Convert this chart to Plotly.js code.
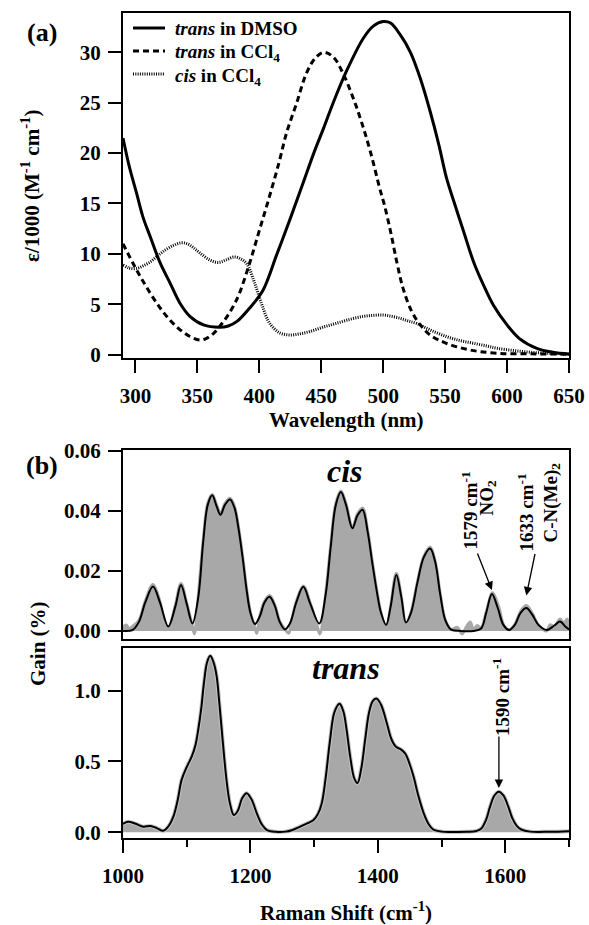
<!DOCTYPE html>
<html>
<head>
<meta charset="utf-8">
<script src="https://cdn.plot.ly/plotly-3.0.1.min.js"></script>
<style>
  html, body { margin: 0; padding: 0; background: #fff; }
  #chart { width: 589px; height: 925px; }
</style>
</head>
<body>
<div id="chart"></div>
<script>
// (a) UV-vis absorption spectra, epsilon / 1000 (M^-1 cm^-1)
const dmsoWavelength = [290, 295, 301, 306, 312, 320, 328, 336, 344, 355, 368, 375, 382, 392, 403, 414, 425, 435, 444, 452, 460, 471, 484, 492, 500, 506, 514, 522, 530, 538, 545, 551, 558, 565, 573, 581, 589, 600, 610, 624, 637, 650];
const dmsoEpsilon    = [21.5, 18.7, 16.0, 13.7, 11.7, 9.1, 7.1, 5.1, 3.8, 2.95, 2.72, 2.85, 3.3, 4.6, 6.4, 9.9, 13.5, 16.9, 20.0, 22.5, 25.1, 28.3, 31.4, 32.6, 33.05, 32.9, 31.7, 30.0, 27.4, 24.1, 20.8, 17.6, 14.85, 12.2, 9.2, 6.9, 4.9, 2.95, 1.6, 0.63, 0.24, 0.06];

const transCclWavelength = [290, 301, 312, 322, 333, 344, 352, 357, 363, 368, 373, 379, 384, 392, 400, 408, 416, 422, 430, 438, 445, 452, 460, 468, 476, 483, 490, 497, 501, 506, 511, 516, 523, 530, 538, 551, 570, 592, 620, 650];
const transCclEpsilon    = [11.0, 8.4, 6.1, 4.3, 2.8, 1.8, 1.45, 1.6, 2.1, 2.8, 3.6, 4.8, 6.1, 9.0, 12.3, 15.6, 19.1, 22.0, 24.9, 27.9, 29.4, 30.0, 29.5, 27.8, 25.4, 22.9, 20.0, 16.6, 14.85, 12.2, 9.2, 6.6, 4.3, 2.95, 1.95, 1.13, 0.47, 0.14, 0.08, 0.05];

const cisCclWavelength = [290, 295, 301, 306, 312, 317, 322, 330, 337, 342, 347, 352, 360, 367, 373, 380, 385, 390, 396, 402, 408, 416, 424, 432, 441, 452, 462, 473, 484, 492, 500, 507, 514, 520, 527, 538, 551, 562, 573, 584, 592, 605, 619, 635, 650];
const cisCclEpsilon    = [8.9, 8.6, 8.55, 8.8, 9.2, 9.7, 10.2, 10.8, 11.1, 11.0, 10.6, 10.1, 9.4, 9.15, 9.4, 9.7, 9.5, 9.0, 7.2, 5.0, 3.2, 2.2, 1.95, 2.05, 2.3, 2.75, 3.1, 3.5, 3.8, 3.9, 3.94, 3.8, 3.6, 3.35, 3.1, 2.45, 1.8, 1.4, 1.13, 0.85, 0.63, 0.42, 0.24, 0.12, 0.05];

// (b) Raman gain spectra, cis isomer: measured trace and fitted curve
const cisRawShift = [1000, 1005, 1010, 1015, 1025, 1035, 1047, 1058, 1063, 1071, 1082, 1091, 1100, 1109, 1112, 1118, 1126, 1133, 1140, 1147, 1153, 1160, 1168, 1175, 1181, 1188, 1194, 1200, 1207, 1210, 1215, 1222, 1230, 1238, 1246, 1254, 1260, 1264, 1272, 1283, 1294, 1305, 1309, 1318, 1326, 1334, 1342, 1350, 1360, 1368, 1376, 1384, 1391, 1398, 1405, 1413, 1420, 1429, 1437, 1444, 1452, 1462, 1472, 1482, 1490, 1498, 1506, 1515, 1525, 1532, 1538, 1545, 1550, 1556, 1562, 1570, 1580, 1590, 1598, 1606, 1615, 1624, 1633, 1642, 1652, 1665, 1670, 1677, 1686, 1692, 1697, 1700];
const cisRawGain  = [0.0012, 0.0020, 0.0008, 0.0015, 0.0035, 0.0100, 0.0155, 0.0098, 0.0040, 0.0010, 0.0085, 0.0158, 0.0092, 0.0015, -0.0010, 0.0112, 0.0305, 0.0425, 0.0455, 0.0420, 0.0392, 0.0425, 0.0442, 0.0415, 0.0350, 0.0245, 0.0140, 0.0062, 0.0012, -0.0008, 0.0052, 0.0098, 0.0118, 0.0088, 0.0032, 0.0006, -0.0008, 0.0028, 0.0098, 0.0150, 0.0092, 0.0015, -0.0010, 0.0122, 0.0285, 0.0425, 0.0466, 0.0425, 0.0345, 0.0390, 0.0410, 0.0335, 0.0235, 0.0140, 0.0060, 0.0010, 0.0082, 0.0192, 0.0112, 0.0020, 0.0062, 0.0162, 0.0248, 0.0280, 0.0232, 0.0122, 0.0035, 0.0005, 0.0012, -0.0010, 0.0010, 0.0030, 0.0005, 0.0018, 0.0010, 0.0062, 0.0127, 0.0078, 0.0018, 0.0004, 0.0022, 0.0065, 0.0085, 0.0060, 0.0020, 0.0000, 0.0020, 0.0015, 0.0040, 0.0025, 0.0040, 0.0020];

const cisFitShift = [1000, 1015, 1025, 1035, 1047, 1058, 1071, 1082, 1091, 1100, 1109, 1118, 1126, 1133, 1140, 1147, 1153, 1160, 1168, 1175, 1181, 1188, 1194, 1200, 1207, 1215, 1222, 1230, 1238, 1246, 1254, 1262, 1272, 1283, 1294, 1308, 1318, 1326, 1334, 1342, 1350, 1360, 1368, 1376, 1384, 1391, 1398, 1405, 1413, 1420, 1429, 1437, 1444, 1452, 1462, 1472, 1482, 1490, 1498, 1506, 1515, 1530, 1550, 1562, 1570, 1579, 1588, 1597, 1606, 1615, 1624, 1633, 1642, 1652, 1665, 1677, 1686, 1694, 1700];
const cisFitGain  = [0.0000, 0.0003, 0.0030, 0.0095, 0.0148, 0.0095, 0.0015, 0.0080, 0.0153, 0.0090, 0.0025, 0.0110, 0.0300, 0.0420, 0.0452, 0.0415, 0.0387, 0.0420, 0.0438, 0.0410, 0.0345, 0.0240, 0.0136, 0.0060, 0.0023, 0.0050, 0.0095, 0.0114, 0.0085, 0.0030, 0.0005, 0.0025, 0.0095, 0.0147, 0.0090, 0.0025, 0.0120, 0.0280, 0.0420, 0.0463, 0.0420, 0.0342, 0.0385, 0.0404, 0.0330, 0.0230, 0.0136, 0.0060, 0.0020, 0.0080, 0.0186, 0.0110, 0.0028, 0.0060, 0.0160, 0.0245, 0.0275, 0.0230, 0.0120, 0.0035, 0.0004, 0.0000, 0.0000, 0.0008, 0.0060, 0.0123, 0.0078, 0.0020, 0.0003, 0.0020, 0.0060, 0.0076, 0.0055, 0.0020, 0.0003, 0.0018, 0.0031, 0.0015, 0.0005];

// (b) Raman gain spectrum, trans isomer
const transShift = [1000, 1008, 1020, 1032, 1043, 1053, 1063, 1071, 1079, 1086, 1092, 1100, 1108, 1114, 1118, 1123, 1127, 1132, 1137, 1142, 1147, 1151, 1155, 1159, 1163, 1168, 1174, 1180, 1187, 1194, 1202, 1210, 1218, 1226, 1240, 1255, 1265, 1278, 1290, 1299, 1306, 1312, 1318, 1325, 1332, 1340, 1346, 1351, 1357, 1363, 1368, 1374, 1380, 1386, 1392, 1398, 1405, 1414, 1421, 1428, 1436, 1443, 1450, 1456, 1464, 1472, 1480, 1487, 1500, 1520, 1540, 1555, 1562, 1570, 1576, 1583, 1590, 1597, 1604, 1611, 1618, 1625, 1639, 1670, 1700];
const transGain  = [0.060, 0.075, 0.060, 0.040, 0.045, 0.030, 0.011, 0.040, 0.110, 0.230, 0.370, 0.460, 0.535, 0.620, 0.720, 0.880, 1.050, 1.200, 1.245, 1.200, 1.100, 0.920, 0.720, 0.520, 0.347, 0.200, 0.122, 0.150, 0.240, 0.276, 0.230, 0.134, 0.055, 0.016, 0.004, 0.005, 0.015, 0.040, 0.065, 0.087, 0.130, 0.205, 0.380, 0.650, 0.850, 0.907, 0.850, 0.720, 0.520, 0.380, 0.347, 0.450, 0.650, 0.840, 0.925, 0.943, 0.900, 0.770, 0.660, 0.605, 0.585, 0.555, 0.480, 0.393, 0.250, 0.134, 0.055, 0.020, 0.005, 0.003, 0.004, 0.010, 0.025, 0.090, 0.180, 0.260, 0.287, 0.260, 0.190, 0.100, 0.045, 0.020, 0.005, 0.004, 0.008];

// Labelled Raman bands (cm^-1)
const cisBands = [1579, 1633];
const transBand = 1590;

// Legend entries for panel (a)
const legendNames = ['<i>trans</i> in DMSO', '<i>trans</i> in CCl<sub>4</sub>', '<i>cis</i> in CCl<sub>4</sub>'];
const legendDash = ['solid', '6px,4px', '1px,1.3px'];

const SERIF = 'Liberation Serif';
const GRAY = '#a8a8a8';
const W = 589, H = 925;
const px = v => v / W;           // horizontal pixel -> paper fraction
const py = v => 1 - v / H;       // vertical pixel -> paper fraction

const lineA = i => ({ color: '#000', width: 3, dash: legendDash[i], shape: 'spline' });

const traces = [
  { x: dmsoWavelength, y: dmsoEpsilon, xaxis: 'x', yaxis: 'y', mode: 'lines', name: legendNames[0], line: lineA(0) },
  { x: transCclWavelength, y: transCclEpsilon, xaxis: 'x', yaxis: 'y', mode: 'lines', name: legendNames[1], line: lineA(1) },
  { x: cisCclWavelength, y: cisCclEpsilon, xaxis: 'x', yaxis: 'y', mode: 'lines', name: legendNames[2], line: lineA(2) },

  { x: cisRawShift, y: cisRawGain, xaxis: 'x2', yaxis: 'y2', mode: 'lines',
    fill: 'tozeroy', fillcolor: GRAY, line: { color: GRAY, width: 3, shape: 'spline' } },
  { x: cisFitShift, y: cisFitGain, xaxis: 'x2', yaxis: 'y2', mode: 'lines',
    line: { color: '#000', width: 2, shape: 'spline' } },

  { x: transShift, y: transGain, xaxis: 'x3', yaxis: 'y3', mode: 'lines',
    fill: 'tozeroy', fillcolor: GRAY, line: { color: '#c4c4c4', width: 4, shape: 'spline' } },
  { x: transShift, y: transGain, xaxis: 'x3', yaxis: 'y3', mode: 'lines',
    line: { color: '#000', width: 2, shape: 'spline' } }
];

const tickFont = { family: SERIF, size: 21, weight: 'bold', color: '#000' };
const axisBase = {
  showline: true, mirror: true, linecolor: '#000', linewidth: 2,
  ticks: 'outside', ticklen: 13, tickwidth: 2, tickcolor: '#000',
  showgrid: false, zeroline: false, tickfont: tickFont, fixedrange: true
};
const xDomain = [px(123), px(569)];

const ann = (text, x, y, size, extra) => Object.assign({
  text, x, y, xref: 'paper', yref: 'paper', showarrow: false,
  xanchor: 'center', yanchor: 'middle',
  font: { family: SERIF, size, weight: 'bold', color: '#000' }
}, extra || {});

// hand-placed legend: a line sample plus a text label per entry
const legendRows = [28, 51, 74];
const shapes = legendRows.map((y, i) => ({
  type: 'line', xref: 'paper', yref: 'paper',
  x0: px(133), x1: px(165), y0: py(y), y1: py(y),
  line: { color: '#000', width: 3, dash: legendDash[i] }
}));

const annotations = [
  ...legendRows.map((y, i) => ann(legendNames[i], px(173), py(y + (i ? 2.5 : 0)), 19, { xanchor: 'left' })),
  ann('(a)', px(42), py(33), 26),
  ann('(b)', px(42), py(466), 26),
  ann('Wavelength (nm)', px(346), py(420), 21),
  ann('ε/1000 (M<sup>-1</sup> cm<sup>-1</sup>)', px(31), py(186), 21, { textangle: -90 }),
  ann('Gain (%)', px(38), py(644), 21, { textangle: -90 }),
  ann('Raman Shift (cm<sup>-1</sup>)', px(346), py(911), 21),
  ann('<i>cis</i>', px(345), py(471), 32),
  ann('<i>trans</i>', px(346), py(668), 32),
  ann(cisBands[0] + ' cm<sup>-1</sup>', px(469.5), py(511), 19, { textangle: -90 }),
  ann('NO<sub>2</sub>', px(488), py(497.5), 19, { textangle: -90 }),
  ann(cisBands[1] + ' cm<sup>-1</sup>', px(525), py(512.5), 19, { textangle: -90 }),
  ann('C-N(Me)<sub>2</sub>', px(551), py(502.5), 19, { textangle: -90 }),
  ann(transBand + ' cm<sup>-1</sup>', px(500.5), py(697.5), 19, { textangle: -90 }),
  // arrows pointing at the labelled bands
  { x: cisBands[0], y: 0.0136, xref: 'x2', yref: 'y2', text: '', showarrow: true,
    ax: -15, ay: -38, arrowhead: 2, arrowsize: 1.3, arrowwidth: 1.3, arrowcolor: '#000' },
  { x: cisBands[1], y: 0.0118, xref: 'x2', yref: 'y2', text: '', showarrow: true,
    ax: 9, ay: -43, arrowhead: 2, arrowsize: 1.3, arrowwidth: 1.3, arrowcolor: '#000' },
  { x: transBand, y: 0.313, xref: 'x3', yref: 'y3', text: '', showarrow: true,
    ax: 0, ay: -53, arrowhead: 2, arrowsize: 1.3, arrowwidth: 1.3, arrowcolor: '#000' }
];

const layout = {
  width: W, height: H,
  margin: { l: 0, r: 0, t: 0, b: 0 },
  paper_bgcolor: '#fff', plot_bgcolor: '#fff',
  font: { family: SERIF, size: 20, weight: 'bold', color: '#000' },
  showlegend: false,
  xaxis: Object.assign({}, axisBase, {
    domain: xDomain, anchor: 'y', range: [290, 650], tick0: 300, dtick: 50, ticklabelstandoff: 5
  }),
  yaxis: Object.assign({}, axisBase, {
    domain: [py(358), py(13)], anchor: 'x', range: [-0.33, 33.9], tick0: 0, dtick: 5, ticklabelstandoff: 3
  }),
  xaxis2: Object.assign({}, axisBase, {
    domain: xDomain, anchor: 'y2', range: [1000, 1700], matches: 'x3',
    ticks: '', showticklabels: false
  }),
  yaxis2: Object.assign({}, axisBase, {
    domain: [py(639), py(450)], anchor: 'x2', range: [-0.0027, 0.0603],
    tickvals: [0, 0.02, 0.04, 0.06], tickformat: '.2f', ticklabelstandoff: 3
  }),
  xaxis3: Object.assign({}, axisBase, {
    domain: xDomain, anchor: 'y3', range: [1000, 1700], ticklabelstandoff: 5,
    tickvals: [1000, 1200, 1400, 1600],
    minor: { tickvals: [1100, 1300, 1500, 1700], ticks: 'outside', ticklen: 7, tickwidth: 2, tickcolor: '#000' }
  }),
  yaxis3: Object.assign({}, axisBase, {
    domain: [py(838), py(648)], anchor: 'x3', range: [-0.04, 1.30],
    tickvals: [0, 0.5, 1.0], tickformat: '.1f', ticklabelstandoff: 3
  }),
  shapes,
  annotations
};

Plotly.newPlot('chart', traces, layout, { displayModeBar: false, staticPlot: true });
</script>
</body>
</html>
